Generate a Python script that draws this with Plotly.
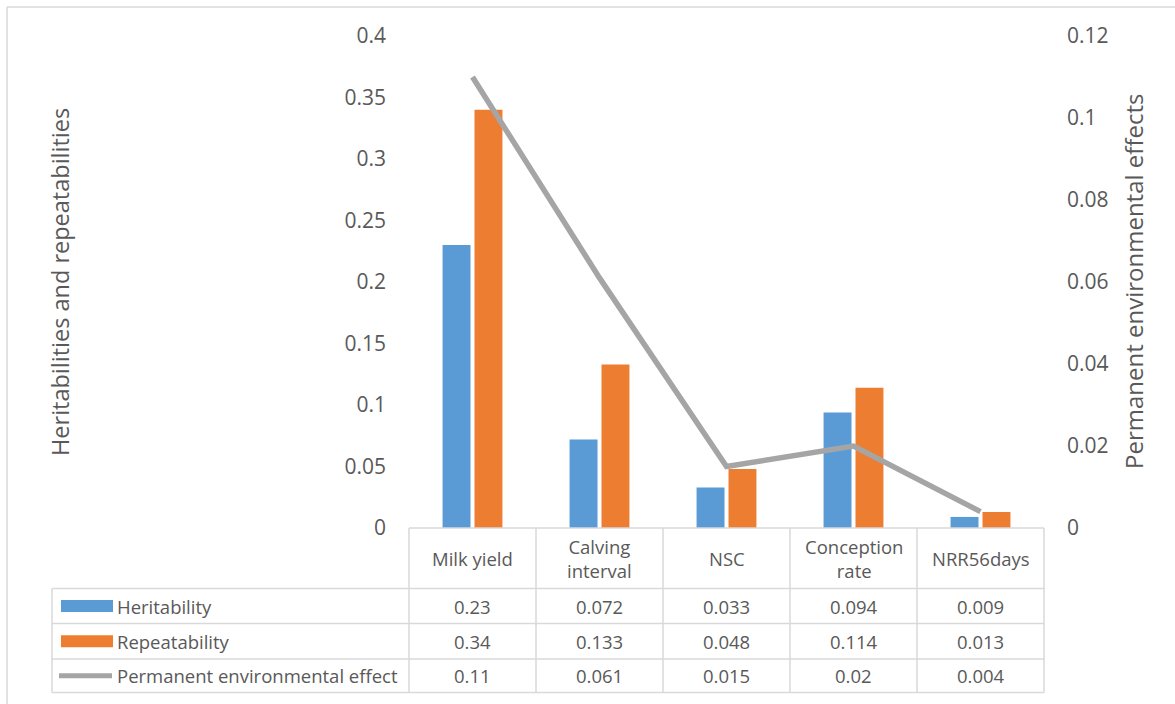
import plotly.graph_objects as go

# ---- data ----
categories = ["Milk yield", "Calving interval", "NSC", "Conception rate", "NRR56days"]
header_labels = ["Milk yield", "Calving<br>interval", "NSC", "Conception<br>rate", "NRR56days"]
heritability = [0.23, 0.072, 0.033, 0.094, 0.009]
repeatability = [0.34, 0.133, 0.048, 0.114, 0.013]
perm_env = [0.11, 0.061, 0.015, 0.02, 0.004]
series_names = ["Heritability", "Repeatability", "Permanent environmental effect"]
left_title = "Heritabilities and repeatabilities"
right_title = "Permanent environmental effects"

# ---- style ----
W, H = 1175, 704
X0, X1 = 409, 1044   # plot area px
YT, YB = 36, 528
BLUE, ORANGE, GRAY = "#5B9BD5", "#ED7D31", "#A5A5A5"
TXT = "#595959"
GRID = "#D9D9D9"
FONT = "Open Sans"
TABLE_SIZE = 18.5


def px(x):
    return (x - X0) / (X1 - X0)


def py(y):
    return (YB - y) / (YB - YT)


fig = go.Figure()
fig.add_trace(go.Bar(x=categories, y=heritability, name=series_names[0],
                     marker=dict(color=BLUE, line=dict(width=0))))
fig.add_trace(go.Bar(x=categories, y=repeatability, name=series_names[1],
                     marker=dict(color=ORANGE, line=dict(width=0))))
fig.add_trace(go.Scatter(x=categories, y=perm_env, name=series_names[2], yaxis="y2",
                         mode="lines", line=dict(color=GRAY, width=5.5)))

shapes = []
ann = []


def hline(x0, x1, y, color=GRID, width=1.5, xref="paper"):
    shapes.append(dict(type="line", xref=xref, yref="paper", x0=x0, x1=x1,
                       y0=py(y), y1=py(y), line=dict(color=color, width=width)))


def vline(x, y0, y1, color=GRID, width=1.5, xref="paper"):
    shapes.append(dict(type="line", xref=xref, yref="paper", x0=x, x1=x,
                       y0=py(y0), y1=py(y1), line=dict(color=color, width=width)))


# outer chart border (top and left visible)
hline(px(7), px(W + 5), 7)
vline(px(7), 7, H + 5)

# table grid
row_lines = [588.5, 623.5, 659, 692.5]
hline(px(X0), px(X1), YB)
for r in row_lines:
    hline(px(52), px(X1), r)
vline(px(52), row_lines[0], row_lines[-1])
n = len(categories)
for i in range(n + 1):
    vline(px(X0 + (X1 - X0) * i / n), YB, row_lines[-1])

# header
hdr_y = (YB + row_lines[0]) / 2
for cat, lab in zip(categories, header_labels):
    ann.append(dict(x=cat, xref="x", y=py(hdr_y), yref="paper", text=lab,
                    showarrow=False, xanchor="center", yanchor="middle",
                    font=dict(size=TABLE_SIZE, color=TXT, family=FONT)))

# value rows
rows = [heritability, repeatability, perm_env]
for k, vals in enumerate(rows):
    yc = (row_lines[k] + row_lines[k + 1]) / 2
    for cat, v in zip(categories, vals):
        ann.append(dict(x=cat, xref="x", y=py(yc), yref="paper", text=f"{v:g}",
                        showarrow=False, xanchor="center", yanchor="middle",
                        font=dict(size=TABLE_SIZE, color=TXT, family=FONT)))
    ann.append(dict(x=px(115), xref="paper", y=py(yc), yref="paper", text=series_names[k],
                    showarrow=False, xanchor="left", yanchor="middle",
                    font=dict(size=TABLE_SIZE, color=TXT, family=FONT)))
    if k < 2:
        shapes.append(dict(type="rect", xref="paper", yref="paper",
                           x0=px(61), x1=px(113), y0=py(yc - 6), y1=py(yc + 6),
                           fillcolor=[BLUE, ORANGE][k], line=dict(width=0)))
    else:
        shapes.append(dict(type="line", xref="paper", yref="paper",
                           x0=px(59), x1=px(112), y0=py(yc), y1=py(yc),
                           line=dict(color=GRAY, width=5)))

# axis titles
ann.append(dict(x=px(60), xref="paper", y=py((YT + YB) / 2), yref="paper", text=left_title,
                textangle=-90, showarrow=False, xanchor="center", yanchor="middle",
                font=dict(size=23.5, color=TXT, family=FONT)))
ann.append(dict(x=px(1133), xref="paper", y=py(282), yref="paper", text=right_title,
                textangle=-90, showarrow=False, xanchor="center", yanchor="middle",
                font=dict(size=24, color=TXT, family=FONT)))

fig.update_layout(
    width=W, height=H,
    margin=dict(l=X0, r=W - X1, t=YT, b=H - YB, pad=0),
    paper_bgcolor="white", plot_bgcolor="white",
    barmode="group", bargap=0.497, bargroupgap=0.125,
    showlegend=False,
    font=dict(family=FONT, color=TXT),
    xaxis=dict(showticklabels=False, showgrid=False, zeroline=False, showline=False,
               ticks="", categoryorder="array", categoryarray=categories),
    yaxis=dict(range=[0, 0.4], dtick=0.05, showgrid=False, zeroline=False, showline=False,
               ticks="", ticklabelstandoff=22, tickfont=dict(size=21, color=TXT, family=FONT)),
    yaxis2=dict(range=[0, 0.12], dtick=0.02, overlaying="y", side="right", showgrid=False,
                zeroline=False, showline=False, ticks="", ticklabelstandoff=22,
                tickfont=dict(size=21, color=TXT, family=FONT)),
    shapes=shapes,
    annotations=ann,
)

fig.write_html("out.html")
